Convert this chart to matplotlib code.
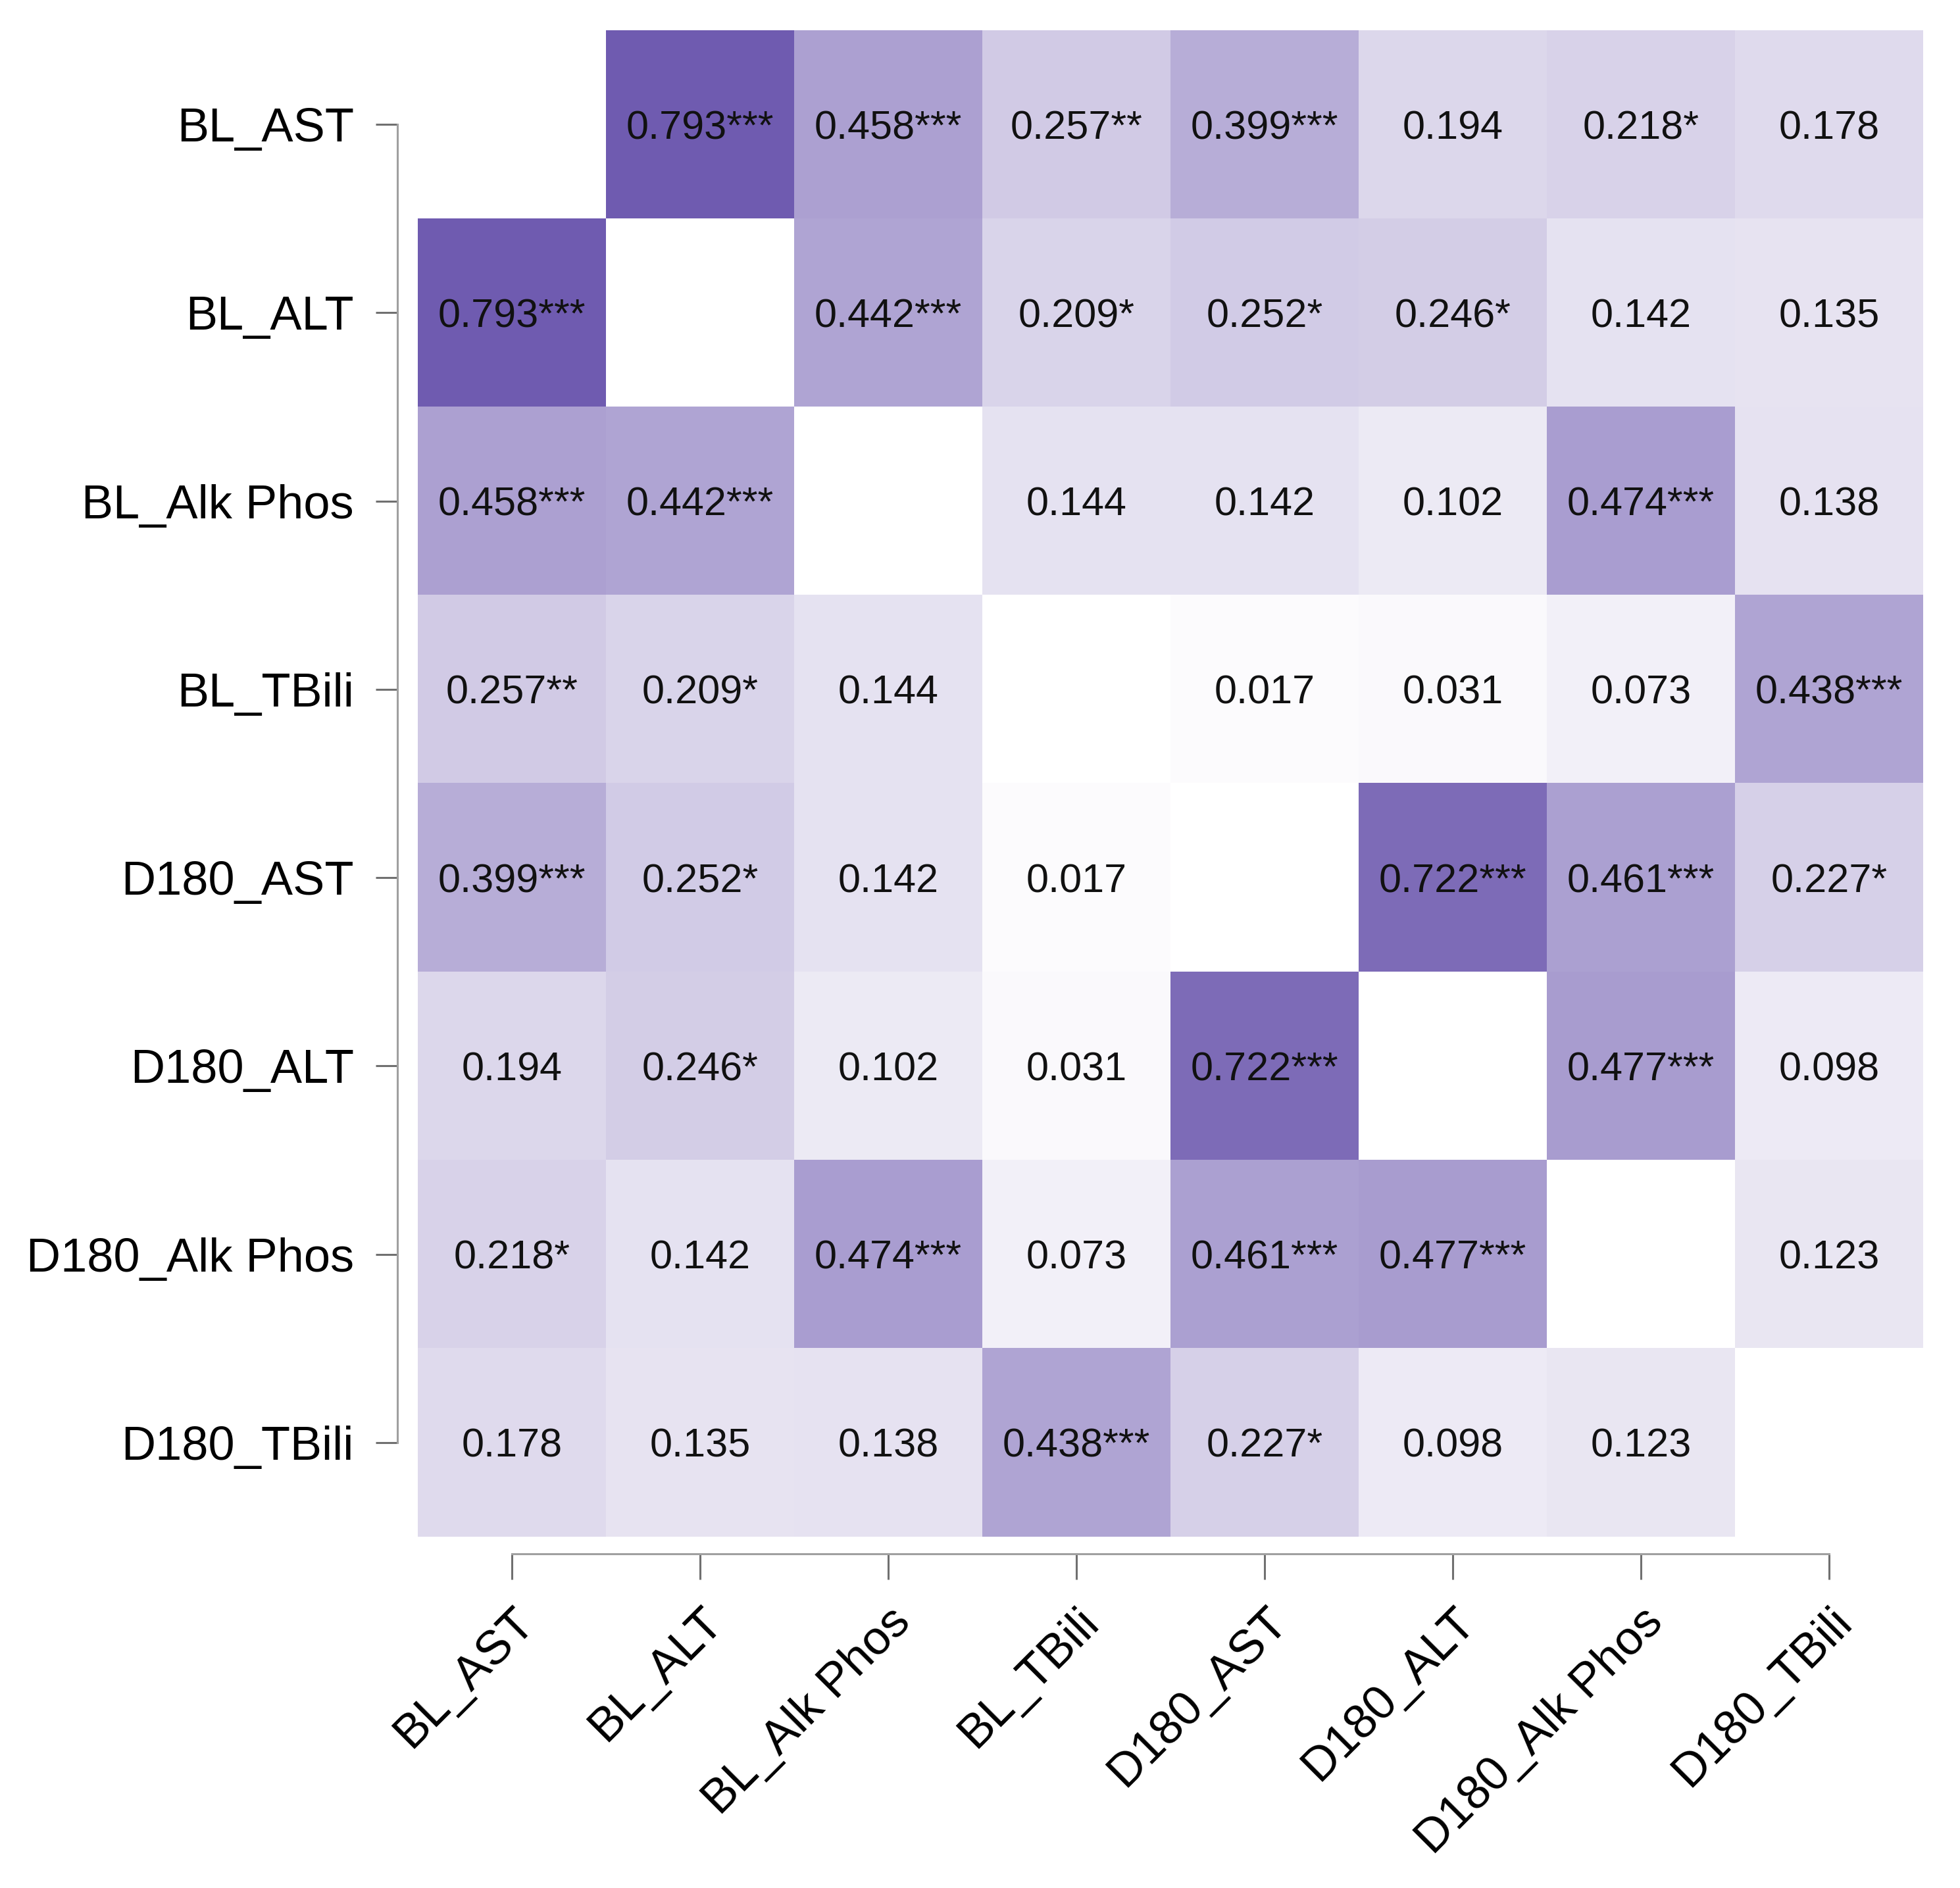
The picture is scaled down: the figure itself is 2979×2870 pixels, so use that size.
import numpy as np
import matplotlib
matplotlib.use("Agg")
import matplotlib.pyplot as plt
from matplotlib.colors import LinearSegmentedColormap

labels = ["BL_AST", "BL_ALT", "BL_Alk Phos", "BL_TBili",
          "D180_AST", "D180_ALT", "D180_Alk Phos", "D180_TBili"]

# upper triangle, row by row (i < j)
upper_vals = [0.793, 0.458, 0.257, 0.399, 0.194, 0.218, 0.178,
              0.442, 0.209, 0.252, 0.246, 0.142, 0.135,
              0.144, 0.142, 0.102, 0.474, 0.138,
              0.017, 0.031, 0.073, 0.438,
              0.722, 0.461, 0.227,
              0.477, 0.098,
              0.123]
upper_stars = ["***", "***", "**", "***", "", "*", "",
               "***", "*", "*", "*", "", "",
               "", "", "", "***", "",
               "", "", "", "***",
               "***", "***", "*",
               "***", "",
               ""]

n = len(labels)
mat = np.full((n, n), np.nan)
stars = [["" for _ in range(n)] for _ in range(n)]
k = 0
for i in range(n):
    for j in range(i + 1, n):
        mat[i, j] = mat[j, i] = upper_vals[k]
        stars[i][j] = stars[j][i] = upper_stars[k]
        k += 1

plt.rcParams["font.family"] = ["Liberation Sans", "DejaVu Sans"]

cmap = LinearSegmentedColormap.from_list("pur", ["#ffffff", "#4b329c"])
cmap.set_bad("white")

W, H, dpi = 2979, 2870, 100
fig = plt.figure(figsize=(W / dpi, H / dpi), dpi=dpi)
left, right, top, bottom = 635, 2923, 46, 2336
ax = fig.add_axes([left / W, 1 - bottom / H, (right - left) / W, (bottom - top) / H])

ax.imshow(np.ma.masked_invalid(mat), cmap=cmap, vmin=0, vmax=1,
          aspect="auto", interpolation="nearest")

for i in range(n):
    for j in range(n):
        if not np.isnan(mat[i, j]):
            ax.text(j, i, f"{mat[i, j]:.3f}{stars[i][j]}", ha="center",
                    va="center_baseline", fontsize=44, color="#111111")

for s in ["top", "right"]:
    ax.spines[s].set_visible(False)
ax.spines["left"].set_position(("outward", 22))
ax.spines["bottom"].set_position(("outward", 19))
ax.spines["left"].set_bounds(0, n - 1)
ax.spines["bottom"].set_bounds(0, n - 1)
for s in ["left", "bottom"]:
    ax.spines[s].set_color("#a0a0a0")
    ax.spines[s].set_linewidth(2.2)

ax.tick_params(axis="y", length=24, width=2.2, color="#707070", pad=24, labelsize=52)
ax.tick_params(axis="x", length=28, width=2.2, color="#707070", pad=22, labelsize=52)

ax.set_xticks(range(n))
ax.set_yticks(range(n))
ax.set_xticklabels(labels)
ax.set_yticklabels(labels)
plt.setp(ax.get_xticklabels(), rotation=45, ha="right", va="top",
         rotation_mode="anchor", fontsize=52)
plt.setp(ax.get_yticklabels(), fontsize=52)

fig.savefig("out.png", dpi=dpi, facecolor="white")
